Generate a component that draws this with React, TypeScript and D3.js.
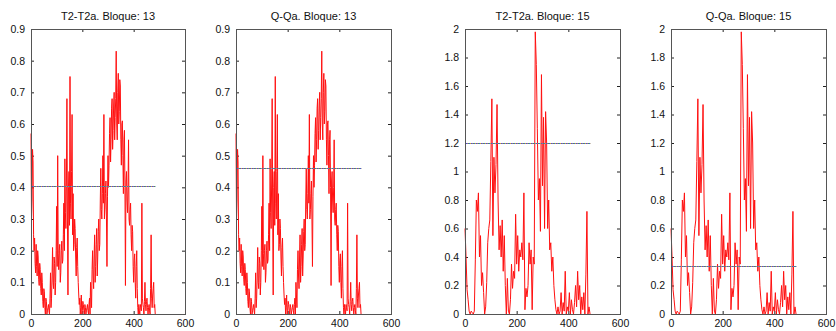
import React, { useEffect, useRef } from "react";
import * as d3 from "d3";

// señal del bloque 13 (muestras cada 2 unidades en x)
const xStep13 = 2;
const bloque13 = [
  0.57, 0.3, 0.36, 0.52, 0.48, 0.25, 0.2, 0.24, 0.16, 0.13, 0.22, 0.15, 0.12, 0.2, 0.18, 0.11,
  0.09, 0.16, 0.14, 0.08, 0.06, 0.13, 0.1, 0.04, 0.02, 0.08, 0.07, 0.02, 0.0, 0.05, 0.04, 0.0,
  0.01, 0.02, 0.03, 0.01, 0.0, 0.05, 0.13, 0.02, 0.05, 0.12, 0.21, 0.1, 0.08, 0.18, 0.16, 0.06,
  0.1, 0.2, 0.34, 0.15, 0.5, 0.19, 0.14, 0.2, 0.22, 0.1, 0.13, 0.2, 0.23, 0.16, 0.17, 0.25,
  0.35, 0.2, 0.49, 0.32, 0.27, 0.42, 0.68, 0.3, 0.06, 0.4, 0.45, 0.28, 0.75, 0.35, 0.3, 0.45,
  0.63, 0.25, 0.38, 0.2, 0.22, 0.3, 0.27, 0.18, 0.12, 0.21, 0.24, 0.15, 0.1, 0.06, 0.03, 0.05,
  0.0, 0.02, 0.06, 0.0, 0.01, 0.04, 0.03, 0.01, 0.0, 0.03, 0.02, 0.0, 0.01, 0.02, 0.03, 0.01,
  0.0, 0.03, 0.05, 0.0, 0.1, 0.06, 0.02, 0.14, 0.2, 0.12, 0.08, 0.18, 0.25, 0.1, 0.15, 0.22,
  0.27, 0.12, 0.18, 0.26, 0.3, 0.2, 0.22, 0.36, 0.46, 0.33, 0.3, 0.38, 0.5, 0.35, 0.63, 0.3,
  0.33, 0.38, 0.42, 0.3, 0.15, 0.37, 0.5, 0.4, 0.47, 0.57, 0.62, 0.48, 0.55, 0.65, 0.68, 0.52,
  0.58, 0.66, 0.7, 0.55, 0.62, 0.68, 0.83, 0.6, 0.55, 0.7, 0.76, 0.6, 0.64, 0.74, 0.72, 0.55,
  0.47, 0.6, 0.61, 0.5, 0.38, 0.55, 0.58, 0.4, 0.09, 0.42, 0.45, 0.36, 0.32, 0.4, 0.55, 0.3,
  0.28, 0.33, 0.35, 0.25, 0.2, 0.28, 0.26, 0.15, 0.1, 0.17, 0.19, 0.1, 0.05, 0.15, 0.2, 0.08,
  0.02, 0.0, 0.03, 0.01, 0.0, 0.03, 0.02, 0.01, 0.35, 0.05, 0.03, 0.02, 0.0, 0.04, 0.1, 0.03,
  0.01, 0.04, 0.05, 0.02, 0.0, 0.02, 0.03, 0.01, 0.0, 0.08, 0.25, 0.05, 0.02, 0.06, 0.08, 0.1,
  0.02, 0.03, 0.0,
];

// señal del bloque 15 (muestras cada 4 unidades en x)
const xStep15 = 4;
const bloque15 = [
  0.6, 0.4, 0.17, 0.1, 0.02, 0.0, 0.02, 0.01, 0.0, 0.02, 0.38, 0.8, 0.72, 0.85, 0.4, 0.55,
  0.2, 0.29, 0.15, 0.0, 0.05, 0.22, 0.5, 0.6, 0.66, 1.07, 1.51, 0.55, 1.1, 0.85, 1.05, 1.47,
  0.8, 0.45, 0.62, 0.4, 0.66, 0.3, 0.55, 0.2, 0.0, 0.25, 0.02, 0.0, 0.1, 0.35, 0.18, 0.3,
  0.25, 0.7, 0.35, 0.55, 0.3, 0.45, 0.4, 0.5, 0.38, 0.85, 0.03, 0.18, 0.12, 0.2, 0.5, 0.35,
  0.45, 0.03, 0.4, 0.35, 1.98, 1.75, 1.3, 0.8, 0.95, 0.58, 1.68, 0.9, 1.38, 0.6, 1.42, 1.2,
  0.6, 0.8, 0.45, 0.5, 0.3, 0.4, 0.2, 0.1, 0.03, 0.0, 0.05, 0.0, 0.02, 0.15, 0.0, 0.08,
  0.02, 0.3, 0.0, 0.05, 0.02, 0.15, 0.0, 0.1, 0.03, 0.0, 0.08, 0.2, 0.05, 0.3, 0.1, 0.2,
  0.0, 0.12, 0.03, 0.15, 0.0, 0.28, 0.72, 0.0, 0.05, 0.0,
];

const titulos = ["T2-T2a. Bloque: 13", "Q-Qa. Bloque: 13", "T2-T2a. Bloque: 15", "Q-Qa. Bloque: 15"];
const medias = [0.405, 0.462, 1.2, 0.34];
const yMax = [0.9, 0.9, 2, 2];
const xTicks = [0, 200, 400, 600];
const yTicks13 = [0, 0.1, 0.2, 0.3, 0.4, 0.5, 0.6, 0.7, 0.8, 0.9];
const yTicks15 = [0, 0.2, 0.4, 0.6, 0.8, 1, 1.2, 1.4, 1.6, 1.8, 2];
const xMedia = 485;

const W = 836;
const H = 331;
const paneles = [
  { left: 31, right: 185 },
  { left: 236, right: 391 },
  { left: 465, right: 620 },
  { left: 671, right: 826 },
];
const top = 29;
const bottom = 314;

const App = () => {
  const ref = useRef(null);

  useEffect(() => {
    const svg = d3.select(ref.current);
    svg.selectAll("*").remove();

    const series = [bloque13, bloque13, bloque15, bloque15];
    const pasos = [xStep13, xStep13, xStep15, xStep15];
    const yTicksAll = [yTicks13, yTicks13, yTicks15, yTicks15];
    const font = "'Liberation Sans', Arial, sans-serif";

    paneles.forEach((p, i) => {
      const x = d3.scaleLinear().domain([0, 600]).range([p.left, p.right]);
      const y = d3.scaleLinear().domain([0, yMax[i]]).range([bottom, top]);
      const g = svg.append("g");
      const tl = 3;

      // ejes con ticks hacia dentro (estilo caja)
      g.append("g")
        .attr("transform", `translate(0,${bottom})`)
        .call(d3.axisBottom(x).tickValues(xTicks).tickSizeInner(-tl).tickSizeOuter(0).tickPadding(6).tickFormat(d3.format("d")))
        .call((a) => a.select(".domain").remove());
      g.append("g")
        .attr("transform", `translate(0,${top})`)
        .call(d3.axisTop(x).tickValues(xTicks).tickSizeInner(-tl).tickSizeOuter(0).tickFormat(() => ""))
        .call((a) => a.select(".domain").remove());
      g.append("g")
        .attr("transform", `translate(${p.left},0)`)
        .call(d3.axisLeft(y).tickValues(yTicksAll[i]).tickSizeInner(-tl).tickSizeOuter(0).tickPadding(6).tickFormat(d3.format("~g")))
        .call((a) => a.select(".domain").remove());
      g.append("g")
        .attr("transform", `translate(${p.right},0)`)
        .call(d3.axisRight(y).tickValues(yTicksAll[i]).tickSizeInner(-tl).tickSizeOuter(0).tickFormat(() => ""))
        .call((a) => a.select(".domain").remove());

      g.selectAll(".tick line").attr("stroke", "#222");
      g.selectAll(".tick text").attr("font-family", font).attr("font-size", 10.5).attr("fill", "#111");

      // señal
      const line = d3
        .line<number>()
        .x((d, j) => x(j * pasos[i]))
        .y((d) => y(d));
      g.append("path")
        .datum(series[i])
        .attr("fill", "none")
        .attr("stroke", "#ff1010")
        .attr("stroke-width", 1)
        .attr("d", line);

      // media (línea punteada multicolor)
      const mediaColors = [
        { c: "#4560c8", dash: null, off: 0 },
        { c: "#d4a032", dash: "1,4", off: 0 },
        { c: "#49a84a", dash: "1,4", off: 2 },
        { c: "#a050b0", dash: "1,4", off: 3 },
      ];
      mediaColors.forEach((m) => {
        const yy = Math.round(y(medias[i])) + 0.5;
        const l = g
          .append("line")
          .attr("x1", x(0))
          .attr("x2", x(xMedia))
          .attr("y1", yy)
          .attr("y2", yy)
          .attr("stroke", m.c)
          .attr("stroke-width", 1);
        if (m.dash) l.attr("stroke-dasharray", m.dash).attr("stroke-dashoffset", m.off);
      });

      // caja
      g.append("rect")
        .attr("x", p.left + 0.5)
        .attr("y", top + 0.5)
        .attr("width", p.right - p.left)
        .attr("height", bottom - top)
        .attr("fill", "none")
        .attr("stroke", "#555")
        .attr("stroke-width", 1);

      // título
      g.append("text")
        .attr("x", (p.left + p.right) / 2)
        .attr("y", 20)
        .attr("text-anchor", "middle")
        .attr("font-family", font)
        .attr("font-size", 11)
        .attr("fill", "#111")
        .text(titulos[i]);
    });
  }, []);

  return (
    <svg
      ref={ref}
      width={W}
      height={H}
      style={{ position: "absolute", left: 0, top: 0, background: "#fff" }}
    ></svg>
  );
};

export default App;
